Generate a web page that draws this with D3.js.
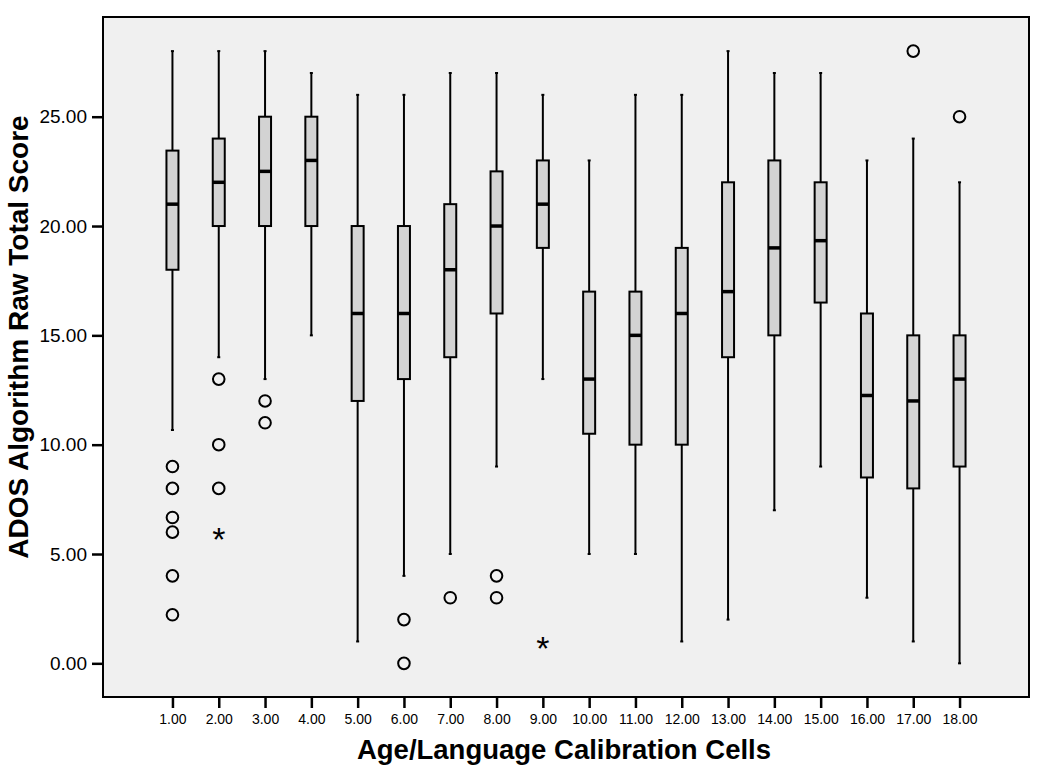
<!DOCTYPE html>
<html>
<head>
<meta charset="utf-8">
<script src="https://cdn.jsdelivr.net/npm/d3@7"></script>
<style>
  body{ margin:0; background:#ffffff; }
  text{ font-family: Arial, "Liberation Sans", sans-serif; fill:#000; }
</style>
</head>
<body>
<script>
// calibration cells on the x axis
let cells = ["1.00","2.00","3.00","4.00","5.00","6.00","7.00","8.00","9.00",
             "10.00","11.00","12.00","13.00","14.00","15.00","16.00","17.00","18.00"];

// box plot values
let whiskerHigh = [28,28,28,27,26,26,27,27,26,23,26,26,28,27,27,23,24,22];
let q3          = [23.45,24,25,25,20,20,21,22.5,23,17,17,19,22,23,22,16,15,15];
let median      = [21,22,22.5,23,16,16,18,20,21,13,15,16,17,19,19.33,12.25,12,13];
let q1          = [18,20,20,20,12,13,14,16,19,10.5,10,10,14,15,16.5,8.5,8,9];
let whiskerLow  = [10.67,14,13,15,1,4,5,9,13,5,5,1,2,7,9,3,1,0];

// outliers (circles) and extremes (stars): [cell, value]
let outliers = [["1.00",9],["1.00",8],["1.00",6.67],["1.00",6],["1.00",4],["1.00",2.22],
                ["2.00",13],["2.00",10],["2.00",8],
                ["3.00",12],["3.00",11],
                ["6.00",2],["6.00",0],
                ["7.00",3],
                ["8.00",4],["8.00",3],
                ["17.00",28],
                ["18.00",25]];
let extremes = [["2.00",6],["9.00",1]];

let yTicks = [0,5,10,15,20,25];

let plotLeft = 103, plotRight = 1029, plotTop = 17, plotBottom = 697;

let svg = d3.select("body")
            .append("svg")
              .attr("width", 1050)
              .attr("height", 775)
;

let x = d3.scalePoint().domain(cells).range([plotLeft, plotRight]).padding(1.5);
let y = d3.scaleLinear().domain([-1.54, 29.56]).range([plotBottom, plotTop]);

// plot background + frame
svg.append("rect")
     .attr("x", plotLeft).attr("y", plotTop)
     .attr("width", plotRight-plotLeft).attr("height", plotBottom-plotTop)
     .attr("fill", "#f0f0f0")
     .attr("stroke", "#000")
     .attr("stroke-width", 2)
;

// axes
let yAxis = svg.append("g")
                 .attr("transform", "translate(" + plotLeft + ",0)")
                 .call(d3.axisLeft(y).tickValues(yTicks).tickFormat(d3.format(".2f")).tickSize(11).tickPadding(5));
yAxis.select(".domain").remove();
yAxis.selectAll("line").attr("stroke-width", 2.5);
yAxis.selectAll("text").attr("font-size", 19).attr("fill", "#000")
     .style("font-family", "Arial, 'Liberation Sans', sans-serif");

let xAxis = svg.append("g")
                 .attr("transform", "translate(0," + plotBottom + ")")
                 .call(d3.axisBottom(x).tickSize(11).tickPadding(6));
xAxis.select(".domain").remove();
xAxis.selectAll("line").attr("stroke-width", 2.5);
xAxis.selectAll("text").attr("font-size", 14).attr("fill", "#000")
     .style("font-family", "Arial, 'Liberation Sans', sans-serif");

// titles
svg.append("text")
     .attr("x", 564)
     .attr("y", 759)
     .attr("text-anchor", "middle")
     .attr("font-size", 27.5)
     .attr("font-weight", "bold")
     .text("Age/Language Calibration Cells")
;

svg.append("text")
     .attr("transform", "translate(28,337) rotate(-90)")
     .attr("text-anchor", "middle")
     .attr("font-size", 28)
     .attr("font-weight", "bold")
     .text("ADOS Algorithm Raw Total Score")
;

// one group per cell
let boxes = cells.map(function(c, i){
  return {cell: c, hi: whiskerHigh[i], q3: q3[i], med: median[i], q1: q1[i], lo: whiskerLow[i]};
});

let half = 6;

let groups = svg.selectAll(".box").data(boxes)
                  .enter()
                    .append("g")
                    .attr("class", "box")
                    .attr("transform", function(d){ return "translate(" + x(d.cell) + ",0)"; })
;

// whiskers
groups.append("line")
        .attr("x1", 0).attr("x2", 0)
        .attr("y1", function(d){ return y(d.hi); })
        .attr("y2", function(d){ return y(d.q3); })
        .attr("stroke", "#000").attr("stroke-width", 2)
;
groups.append("line")
        .attr("x1", 0).attr("x2", 0)
        .attr("y1", function(d){ return y(d.q1); })
        .attr("y2", function(d){ return y(d.lo); })
        .attr("stroke", "#000").attr("stroke-width", 2)
;
// tiny whisker caps
groups.append("line")
        .attr("x1", -1.5).attr("x2", 1.5)
        .attr("y1", function(d){ return y(d.hi); })
        .attr("y2", function(d){ return y(d.hi); })
        .attr("stroke", "#000").attr("stroke-width", 2)
;
groups.append("line")
        .attr("x1", -1.5).attr("x2", 1.5)
        .attr("y1", function(d){ return y(d.lo); })
        .attr("y2", function(d){ return y(d.lo); })
        .attr("stroke", "#000").attr("stroke-width", 2)
;

// boxes
groups.append("rect")
        .attr("x", -half)
        .attr("width", half*2)
        .attr("y", function(d){ return y(d.q3); })
        .attr("height", function(d){ return y(d.q1) - y(d.q3); })
        .attr("fill", "#d3d3d3")
        .attr("stroke", "#000")
        .attr("stroke-width", 2)
;

// medians
groups.append("line")
        .attr("x1", -half).attr("x2", half)
        .attr("y1", function(d){ return y(d.med); })
        .attr("y2", function(d){ return y(d.med); })
        .attr("stroke", "#000").attr("stroke-width", 3.5)
;

// outliers
svg.selectAll(".outlier").data(outliers)
     .enter()
       .append("circle")
       .attr("class", "outlier")
       .attr("cx", function(d){ return x(d[0]); })
       .attr("cy", function(d){ return y(d[1]); })
       .attr("r", 5.8)
       .attr("fill", "none")
       .attr("stroke", "#000")
       .attr("stroke-width", 2)
;

// extremes
svg.selectAll(".extreme").data(extremes)
     .enter()
       .append("text")
       .attr("class", "extreme")
       .attr("x", function(d){ return x(d[0]); })
       .attr("y", function(d){ return y(d[1]) + 19; })
       .attr("text-anchor", "middle")
       .attr("font-size", 34)
       .text("*")
;
</script>
</body>
</html>
